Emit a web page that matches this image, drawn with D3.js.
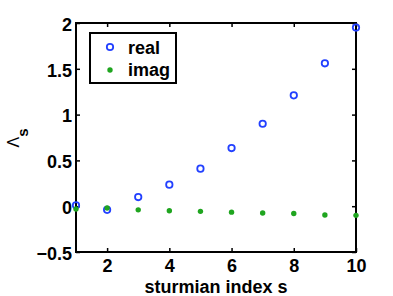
<!DOCTYPE html>
<html>
<head>
<meta charset="utf-8">
<script src="https://cdn.jsdelivr.net/npm/d3@7"></script>
<style>
  body { margin: 0; background: #fff; }
  text { font-family: "Liberation Sans", Arial, sans-serif; }
</style>
</head>
<body>
<div id="chart"></div>
<script>
var index_s = [1, 2, 3, 4, 5, 6, 7, 8, 9, 10];
var real_vals = [0.01, -0.04, 0.10, 0.235, 0.41, 0.635, 0.90, 1.21, 1.56, 1.95];
var imag_vals = [-0.03, -0.02, -0.04, -0.05, -0.056, -0.065, -0.075, -0.08, -0.096, -0.10];
var x_ticks = [2, 4, 6, 8, 10];
var y_ticks = [-0.5, 0, 0.5, 1, 1.5, 2];

var chart_width = 393;
var chart_height = 296;
var plot_left = 76, plot_right = 356, plot_top = 23, plot_bottom = 252;

var svg = d3.select('#chart')
    .append('svg')
    .attr('width', chart_width)
    .attr('height', chart_height);

// Scales
var x_scale = d3.scaleLinear().domain([1, 10]).range([plot_left, plot_right]);
var y_scale = d3.scaleLinear().domain([-0.5, 2]).range([plot_bottom, plot_top]);

// Axes (ticks pointing inward, box on all sides)
var x_axis = d3.axisBottom(x_scale).tickValues(x_ticks).tickSizeInner(-4).tickSizeOuter(0)
    .tickFormat(d3.format('d'));
var y_axis = d3.axisLeft(y_scale).tickValues(y_ticks).tickSizeInner(-4).tickSizeOuter(0)
    .tickFormat(function(d){ return d < 0 ? '\u2212' + Math.abs(d) : d; });

var gx = svg.append('g')
    .attr('transform', 'translate(0,' + plot_bottom + ')')
    .call(x_axis);
var gy = svg.append('g')
    .attr('transform', 'translate(' + plot_left + ',0)')
    .call(y_axis);

svg.append('g')
    .attr('transform', 'translate(0,' + plot_top + ')')
    .call(d3.axisTop(x_scale).tickValues(x_ticks).tickSizeInner(-4).tickSizeOuter(0).tickFormat(''));
svg.append('g')
    .attr('transform', 'translate(' + plot_right + ',0)')
    .call(d3.axisRight(y_scale).tickValues(y_ticks).tickSizeInner(-4).tickSizeOuter(0).tickFormat(''));

svg.selectAll('.domain').remove();
svg.selectAll('.tick line').attr('stroke', '#000').attr('stroke-width', 1.5);

gx.selectAll('text')
    .attr('dy', 0)
    .attr('y', 20)
    .style('font-size', '18px')
    .style('font-weight', 'bold')
    .attr('fill', '#000');
gy.selectAll('text')
    .attr('x', -4)
    .attr('dy', '0.4em')
    .style('font-size', '18px')
    .style('font-weight', 'bold')
    .attr('fill', '#000');

// Box
svg.append('rect')
    .attr('x', plot_left).attr('y', plot_top)
    .attr('width', plot_right - plot_left).attr('height', plot_bottom - plot_top)
    .attr('fill', 'none')
    .attr('stroke', '#000')
    .attr('stroke-width', 2);

// Data
var data = index_s.map(function(s, i){
    return { s: s, re: real_vals[i], im: imag_vals[i] };
});

svg.append('g').selectAll('circle')
    .data(data)
    .enter().append('circle')
    .attr('cx', function(d){ return x_scale(d.s); })
    .attr('cy', function(d){ return y_scale(d.re); })
    .attr('r', 3.2)
    .attr('fill', 'none')
    .attr('stroke', '#2240ff')
    .attr('stroke-width', 1.8);

svg.append('g').selectAll('circle')
    .data(data)
    .enter().append('circle')
    .attr('cx', function(d){ return x_scale(d.s); })
    .attr('cy', function(d){ return y_scale(d.im); })
    .attr('r', 2.7)
    .attr('fill', '#1fa51f');

// Legend
var legend = svg.append('g');
legend.append('rect')
    .attr('x', 90).attr('y', 33)
    .attr('width', 86).attr('height', 50)
    .attr('fill', '#fff')
    .attr('stroke', '#000')
    .attr('stroke-width', 2);
legend.append('circle')
    .attr('cx', 110).attr('cy', 47).attr('r', 3.2)
    .attr('fill', 'none').attr('stroke', '#2240ff').attr('stroke-width', 1.8);
legend.append('circle')
    .attr('cx', 110).attr('cy', 70).attr('r', 2.7)
    .attr('fill', '#1fa51f');
legend.append('text')
    .attr('x', 128).attr('y', 54)
    .style('font-size', '18px').style('font-weight', 'bold')
    .text('real');
legend.append('text')
    .attr('x', 128).attr('y', 76)
    .style('font-size', '18px').style('font-weight', 'bold')
    .text('imag');

// Labels
svg.append('text')
    .attr('x', (plot_left + plot_right) / 2)
    .attr('y', 293)
    .attr('text-anchor', 'middle')
    .style('font-size', '18px')
    .style('font-weight', 'bold')
    .text('sturmian index s');

var ylab = svg.append('text')
    .attr('transform', 'translate(19,138) rotate(-90)')
    .attr('text-anchor', 'middle')
    .style('font-size', '16px');
ylab.append('tspan').text('\u039b');
ylab.append('tspan').attr('dy', 9).style('font-size', '15px').style('font-weight', 'bold').text('s');
</script>
</body>
</html>
